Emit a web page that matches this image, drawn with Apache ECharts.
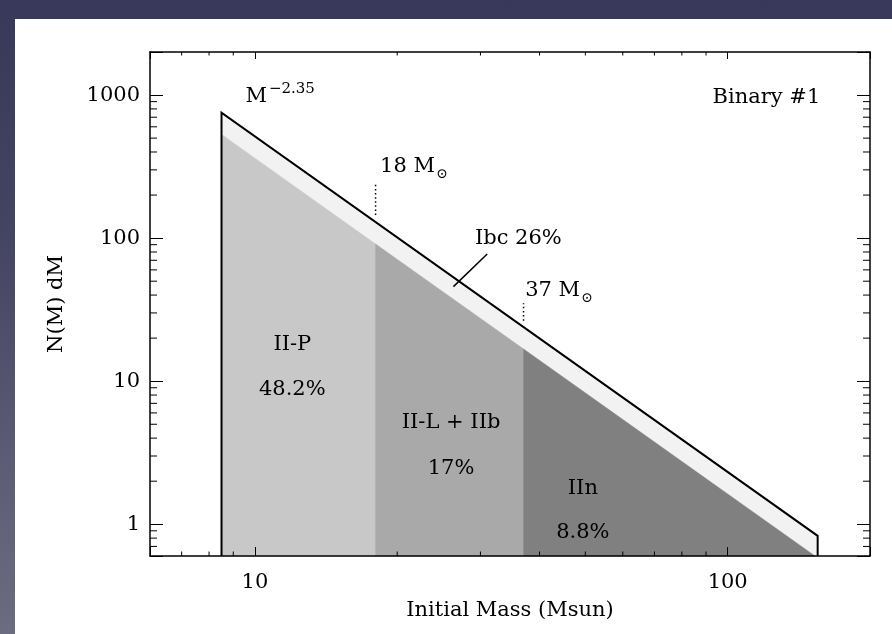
<!DOCTYPE html>
<html>
<head>
<meta charset="utf-8">
<title>Initial mass function and SN types</title>
<script src="https://cdn.jsdelivr.net/npm/echarts@6.0.0/dist/echarts.min.js"></script>
<style>
  html, body { margin: 0; padding: 0; }
  body {
    width: 892px; height: 634px; overflow: hidden; position: relative;
    background: linear-gradient(to bottom, #38385a 0%, #434362 35%, #5a5a74 70%, #6c6c80 100%);
  }
  #sheet { position: absolute; left: 15px; top: 19px; right: 0; bottom: 0; background: #fff; }
  #chart { position: absolute; left: 0; top: 0; width: 892px; height: 634px; }
</style>
</head>
<body>
<div id="sheet"></div>
<div id="chart"></div>
<script>
// ---- data -------------------------------------------------------------
const massRange = [6, 200];            // Msun, x extent
const countRange = [0.6, 2000];        // N(M) dM, y extent
const imfMass = [8.5, 155];            // ends of the drawn power law
const imfCount = [752, 0.83];          // N(M) dM at those masses
const typeNames = ['II-P', 'II-L + IIb', 'IIn'];
const typeShares = ['48.2%', '17%', '8.8%'];
const typeMassEdges = [8.5, 18, 37, 153];
const typeTopCounts = [531, 91, 16.8, 0.6];
const ibcLabel = 'Ibc 26%';
const cutMasses = [18, 37];
const slopeBase = 'M';
const slopePower = '\u22122.35';
const panelLabel = 'Binary #1';
const xTickLabels = [10, 100];
const yTickLabels = [1, 10, 100, 1000];
const xMinorTicks = [7, 8, 9, 20, 30, 40, 50, 60, 70, 80, 90];
const yMinorTicks = [0.7, 0.8, 0.9, 2, 3, 4, 5, 6, 7, 8, 9, 20, 30, 40, 50, 60, 70, 80, 90,
                     200, 300, 400, 500, 600, 700, 800, 900];

// ---- annotation placement (data units) ----------------------------------
const notePlace = {
  typeName: [[12, 17.9], [26, 5.18], [49.4, 1.79]],
  typeShare: [[12, 8.68], [26, 2.47], [49.4, 0.869]],
  ibc: [29.2, 100],
  ibcLeader: [[31, 77.4], [26.3, 45.8]],
  cutDots: [[145, 240], [26.5, 35]],
  cutText: [[18.4, 317], [37.3, 43]],
  slope: [9.55, 975],
  panel: [157, 954]
};

// ---- styling ------------------------------------------------------------
const FONT = '"DejaVu Serif", "Liberation Serif", serif';
const TXT = 21;
const bandColor = '#f2f2f2';
const typeColors = ['#c8c8c8', '#a9a9a9', '#808080'];

const measureCtx = document.createElement('canvas').getContext('2d');
function textWidth(s, size) {
  measureCtx.font = size + 'px ' + FONT;
  return measureCtx.measureText(s).width;
}
function text(x, y, s, size, align, valign) {
  return {
    type: 'text',
    style: {
      x: x, y: y, text: s, fill: '#000', font: size + 'px ' + FONT,
      fontSize: size, fontFamily: FONT,
      align: align, textAlign: align,
      verticalAlign: valign || 'middle', textVerticalAlign: valign || 'middle'
    }
  };
}
function pickLabel(list) {
  return function (v) {
    const t = list.find(function (t) { return Math.abs(v / t - 1) < 1e-6; });
    return t === undefined ? '' : String(t);
  };
}
// one-shot custom series: draws a single group from the given callback
function drawSeries(name, z, draw) {
  return {
    type: 'custom', name: name, coordinateSystem: 'cartesian2d', z: z,
    silent: true, clip: false,
    data: [[imfMass[0], imfCount[0]]],
    renderItem: function (params, api) { return draw(params, api); }
  };
}
function polyPoints(api, pts) { return pts.map(function (p) { return api.coord(p); }); }

const floor = countRange[0];
const outline = [[imfMass[0], floor], [imfMass[0], imfCount[0]],
                 [imfMass[1], imfCount[1]], [imfMass[1], floor]];
function typeRegion(i) {
  return [[typeMassEdges[i], floor], [typeMassEdges[i], typeTopCounts[i]],
          [typeMassEdges[i + 1], typeTopCounts[i + 1]], [typeMassEdges[i + 1], floor]];
}

const axisText = { color: '#000', fontFamily: FONT, fontSize: TXT };
const axisLine = { onZero: false, lineStyle: { color: '#000', width: 1.5 } };
function tickStyle(len) { return { inside: true, length: len, lineStyle: { color: '#000', width: 1 } }; }

const series = [
  // Ibc band: everything under the power law
  drawSeries('band', 2, function (params, api) {
    return { type: 'polygon', shape: { points: polyPoints(api, outline) }, style: { fill: bandColor } };
  }),
  // SN type regions
  drawSeries('types', 3, function (params, api) {
    return {
      type: 'group',
      children: typeNames.map(function (n, i) {
        return { type: 'polygon', shape: { points: polyPoints(api, typeRegion(i)) },
                 style: { fill: typeColors[i], stroke: typeColors[i], lineWidth: 0.5 } };
      })
    };
  }),
  // power-law outline
  drawSeries('imf', 4, function (params, api) {
    return { type: 'polyline', shape: { points: polyPoints(api, outline) },
             style: { stroke: '#000', lineWidth: 2, fill: null, lineJoin: 'miter' } };
  }),
  // mass cuts, leader and labels
  drawSeries('notes', 5, function (params, api) {
    const kids = [];
    cutMasses.forEach(function (m, i) {
      const a = api.coord([m, notePlace.cutDots[i][0]]);
      const b = api.coord([m, notePlace.cutDots[i][1]]);
      kids.push({ type: 'line', shape: { x1: a[0], y1: a[1], x2: b[0], y2: b[1] },
                  style: { stroke: '#000', lineWidth: 1.5, lineDash: [1.5, 2.6] } });
      const t = api.coord(notePlace.cutText[i]);
      const base = m + ' M';
      kids.push(text(t[0], t[1], base, TXT, 'left', 'middle'));
      kids.push(text(t[0] + textWidth(base, TXT) + 1, t[1] + 8, '\u2299', 14, 'left', 'middle'));
    });
    const l0 = api.coord(notePlace.ibcLeader[0]);
    const l1 = api.coord(notePlace.ibcLeader[1]);
    kids.push({ type: 'line', shape: { x1: l0[0], y1: l0[1], x2: l1[0], y2: l1[1] },
                style: { stroke: '#000', lineWidth: 1.5 } });
    const ib = api.coord(notePlace.ibc);
    kids.push(text(ib[0], ib[1], ibcLabel, TXT, 'left', 'middle'));
    typeNames.forEach(function (n, i) {
      const p = api.coord(notePlace.typeName[i]);
      const q = api.coord(notePlace.typeShare[i]);
      kids.push(text(p[0], p[1], n, TXT, 'center', 'middle'));
      kids.push(text(q[0], q[1], typeShares[i], TXT, 'center', 'middle'));
    });
    const s = api.coord(notePlace.slope);
    kids.push(text(s[0], s[1], slopeBase, TXT, 'left', 'middle'));
    kids.push(text(s[0] + textWidth(slopeBase, TXT) + 2, s[1] - 8, slopePower, 15, 'left', 'middle'));
    const pl = api.coord(notePlace.panel);
    kids.push(text(pl[0], pl[1], panelLabel, TXT, 'right', 'middle'));
    return { type: 'group', children: kids };
  }),
  // minor ticks on the bottom and top edges
  {
    type: 'custom', name: 'xMinor', coordinateSystem: 'cartesian2d', z: 6, silent: true, clip: false,
    data: xMinorTicks.map(function (v) { return [v, floor]; }),
    renderItem: function (params, api) {
      const cs = params.coordSys;
      const px = api.coord([api.value(0), floor])[0];
      const bottom = cs.y + cs.height;
      return { type: 'group', children: [
        { type: 'line', shape: { x1: px, y1: bottom, x2: px, y2: bottom - 4.5 }, style: { stroke: '#000', lineWidth: 1 } },
        { type: 'line', shape: { x1: px, y1: cs.y, x2: px, y2: cs.y + 3.5 }, style: { stroke: '#000', lineWidth: 1 } }
      ] };
    }
  },
  // minor ticks on the left and right edges
  {
    type: 'custom', name: 'yMinor', coordinateSystem: 'cartesian2d', z: 6, silent: true, clip: false,
    data: yMinorTicks.map(function (v) { return [massRange[0], v]; }),
    renderItem: function (params, api) {
      const cs = params.coordSys;
      const py = api.coord([massRange[0], api.value(1)])[1];
      const right = cs.x + cs.width;
      return { type: 'group', children: [
        { type: 'line', shape: { x1: cs.x, y1: py, x2: cs.x + 7, y2: py }, style: { stroke: '#000', lineWidth: 1 } },
        { type: 'line', shape: { x1: right, y1: py, x2: right - 7, y2: py }, style: { stroke: '#000', lineWidth: 1 } }
      ] };
    }
  }
];

const option = {
  animation: false,
  backgroundColor: 'transparent',
  grid: { left: 150, top: 52, right: 22, bottom: 78, containLabel: false, outerBoundsMode: 'none' },
  xAxis: [
    {
      type: 'log', logBase: 10, min: massRange[0], max: massRange[1], position: 'bottom', z: 10,
      axisLine: axisLine, axisTick: tickStyle(9), splitLine: { show: false },
      axisLabel: Object.assign({ margin: 16, formatter: pickLabel(xTickLabels) }, axisText),
      name: 'Initial Mass (Msun)', nameLocation: 'middle', nameGap: 44, nameMoveOverlap: false,
      nameTextStyle: axisText
    },
    {
      type: 'log', logBase: 10, min: massRange[0], max: massRange[1], position: 'top', z: 10,
      axisLine: axisLine, axisTick: tickStyle(7), splitLine: { show: false }, axisLabel: { show: false }
    }
  ],
  yAxis: [
    {
      type: 'log', logBase: 10, min: countRange[0], max: countRange[1], position: 'left', z: 10,
      axisLine: axisLine, axisTick: tickStyle(13), splitLine: { show: false },
      axisLabel: Object.assign({ margin: 10, formatter: pickLabel(yTickLabels) }, axisText),
      name: 'N(M) dM', nameLocation: 'middle', nameGap: 83, nameMoveOverlap: false,
      nameTextStyle: axisText
    },
    {
      type: 'log', logBase: 10, min: countRange[0], max: countRange[1], position: 'right', z: 10,
      axisLine: axisLine, axisTick: tickStyle(13), splitLine: { show: false }, axisLabel: { show: false }
    }
  ],
  series: series
};

const chart = echarts.init(document.getElementById('chart'), null, { renderer: 'canvas' });
chart.setOption(option);
</script>
</body>
</html>
